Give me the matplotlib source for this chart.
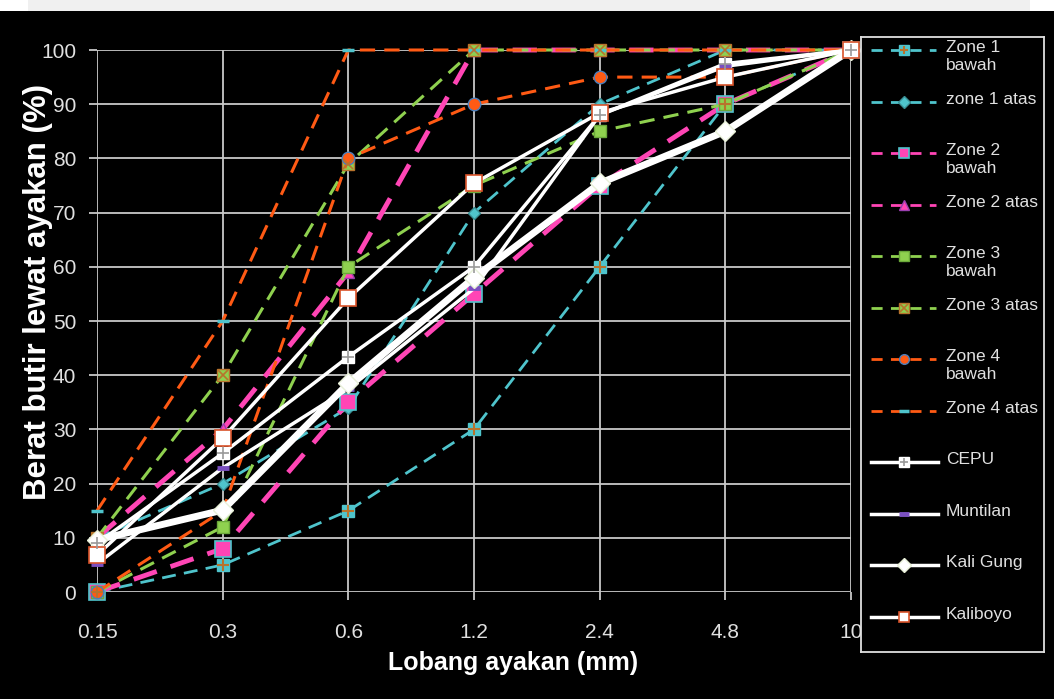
import matplotlib
matplotlib.use("Agg")
import matplotlib.pyplot as plt
from matplotlib.patches import Rectangle

plt.rcParams['font.family'] = ['Liberation Sans', 'DejaVu Sans']

# sieve sizes (mm) and cumulative % passing
sieve = ['0.15', '0.3', '0.6', '1.2', '2.4', '4.8', '10']

zone1_bawah = [0, 5, 15, 30, 60, 90, 100]
zone1_atas = [10, 20, 34, 70, 90, 100, 100]
zone2_bawah = [0, 8, 35, 55, 75, 90, 100]
zone2_atas = [10, 30, 59, 100, 100, 100, 100]
zone3_bawah = [0, 12, 60, 75, 85, 90, 100]
zone3_atas = [10, 40, 79, 100, 100, 100, 100]
zone4_bawah = [0, 15, 80, 90, 95, 95, 100]
zone4_atas = [15, 50, 100, 100, 100, 100, 100]

cepu = [9, 25.6, 43.4, 60, 88, 97.5, 100]
muntilan = [5.2, 22.9, 37.5, 56, 88, 97, 100]
kali_gung = [9.6, 15.1, 38.5, 58, 75.4, 85, 100]
kaliboyo = [6.8, 28.4, 54.2, 75.4, 88.4, 95, 100]

CYAN = '#4fc4cc'
PINK = '#ff45b5'
GREEN = '#8fd14f'
ORANGE = '#ff5a14'
BROWN = '#b8732c'
DASH = (0, (5, 3))

W, H = 1054, 699
fig = plt.figure(figsize=(W / 100, H / 100), dpi=100, facecolor='black')

# strip of page above the chart
fig.add_artist(Rectangle((0, 1 - 11 / H), 1, 11 / H, transform=fig.transFigure,
                         facecolor='#f0f0f0', edgecolor='none'))
fig.add_artist(Rectangle((0, 1 - 11 / H), 28 / W, 11 / H, transform=fig.transFigure,
                         facecolor='white', edgecolor='none'))
fig.add_artist(Rectangle((1030 / W, 1 - 11 / H), 24 / W, 11 / H, transform=fig.transFigure,
                         facecolor='white', edgecolor='none'))

ax = fig.add_axes([97 / W, 1 - 592 / H, (851 - 97) / W, (592 - 50) / H])
ax.set_facecolor('black')
x = list(range(len(sieve)))

# (label, values, line kwargs, overlay marker kwargs)
zones = [
    ('Zone 1\nbawah', zone1_bawah,
     dict(color=CYAN, lw=2, marker='s', ms=8, mfc=CYAN, mec=CYAN),
     dict(marker='+', ms=8, mew=1.5, color=BROWN)),
    ('zone 1 atas', zone1_atas,
     dict(color=CYAN, lw=2, marker='D', ms=6, mfc=CYAN, mec='#3a8f95'), None),
    ('Zone 2\nbawah', zone2_bawah,
     dict(color=PINK, lw=3.5, marker='s', ms=11, mfc=PINK, mec=CYAN, mew=1.2), None),
    ('Zone 2 atas', zone2_atas,
     dict(color=PINK, lw=3.5, marker='^', ms=9, mfc=PINK, mec='#9a3fb0'), None),
    ('Zone 3\nbawah', zone3_bawah,
     dict(color=GREEN, lw=2.2, marker='s', ms=9, mfc=GREEN, mec='#6aa83a'), None),
    ('Zone 3 atas', zone3_atas,
     dict(color=GREEN, lw=2.2, marker='s', ms=9, mfc=GREEN, mec=BROWN),
     dict(marker='x', ms=7, mew=1.2, color=BROWN)),
    ('Zone 4\nbawah', zone4_bawah,
     dict(color=ORANGE, lw=2.2, marker='o', ms=9, mfc=ORANGE, mec='#4a7ebb'), None),
    ('Zone 4 atas', zone4_atas,
     dict(color=ORANGE, lw=2.2, marker='_', ms=8, mew=2.5, mec=CYAN), None),
]

samples = [
    ('CEPU', cepu,
     dict(color='white', lw=2.5, marker='s', ms=9, mfc='white', mec='white'),
     dict(marker='+', ms=9, mew=1.2, color='#9a9a9a')),
    ('Muntilan', muntilan,
     dict(color='white', lw=2.5, marker='_', ms=9, mew=3.5, mec='#7a4fc0'), None),
    ('Kali Gung', kali_gung,
     dict(color='white', lw=5, marker='D', ms=10, mfc='white', mec='#e8f0d8'), None),
    ('Kaliboyo', kaliboyo,
     dict(color='white', lw=2.5, marker='s', ms=11, mfc='white', mec='#d9532a', mew=1.2), None),
]

for label, vals, kw, over in zones:
    ax.plot(x, vals, linestyle=DASH, zorder=3, clip_on=False, **kw)
    if over:
        ax.plot(x, vals, linestyle='none', zorder=3.1, clip_on=False, **over)

for label, vals, kw, over in samples:
    ax.plot(x, vals, linestyle='-', zorder=4, clip_on=False, **kw)
    if over:
        ax.plot(x, vals, linestyle='none', zorder=4.1, clip_on=False, **over)

ax.set_xlim(0, len(sieve) - 1)
ax.set_ylim(0, 100)
ax.set_xticks(x)
ax.set_xticklabels(sieve)
ax.set_yticks(range(0, 101, 10))
ax.grid(True, color='#c8c8c8', lw=1.3, zorder=1)
ax.set_axisbelow(True)
for s in ax.spines.values():
    s.set_visible(False)
ax.tick_params(colors='#c8c8c8', length=6, width=1.3, labelcolor='#e0e0e0',
               labelsize=15)
ax.tick_params(axis='x', pad=16)
ax.tick_params(axis='y', pad=9)

ax.set_xlabel('Lobang ayakan (mm)', color='white', fontsize=18, fontweight='bold')
ax.xaxis.set_label_coords(0.552, -0.109)
ax.set_ylabel('Berat butir lewat ayakan (%)', color='white', fontsize=22.5,
              fontweight='bold')
ax.yaxis.set_label_coords(-0.058, 0.553)

# legend panel
lax = fig.add_axes([861 / W, 1 - 652 / H, 183 / W, 615 / H], zorder=5)
lax.set_facecolor('black')
lax.set_xlim(861, 1044)
lax.set_ylim(652, 37)
lax.set_xticks([])
lax.set_yticks([])
for s in lax.spines.values():
    s.set_color('#e0e0e0')
    s.set_linewidth(1.3)

entries = [(e, True) for e in zones] + [(e, False) for e in samples]
ys = [50 + i * 51.5 for i in range(len(entries))]
for ((label, vals, kw, over), dashed), yy in zip(entries, ys):
    if dashed:
        lax.plot([871, 936], [yy, yy], linestyle=(0, (4, 3)), lw=2, color=kw['color'])
    else:
        lax.plot([871, 938], [yy, yy], linestyle='-', lw=2.5, color=kw['color'])
    mk = {k: v for k, v in kw.items() if k in ('marker', 'mfc', 'mec', 'mew')}
    mk['ms'] = min(kw.get('ms', 6), 7)
    lax.plot([904], [yy], linestyle='none', **mk)
    if over:
        o = dict(over)
        o['ms'] = 6
        lax.plot([904], [yy], linestyle='none', **o)
    lax.text(946, yy - 10, label, color='#e0e0e0', fontsize=12.5, va='top',
             ha='left', linespacing=1.25)

fig.savefig('out.png', dpi=100, facecolor='black')
